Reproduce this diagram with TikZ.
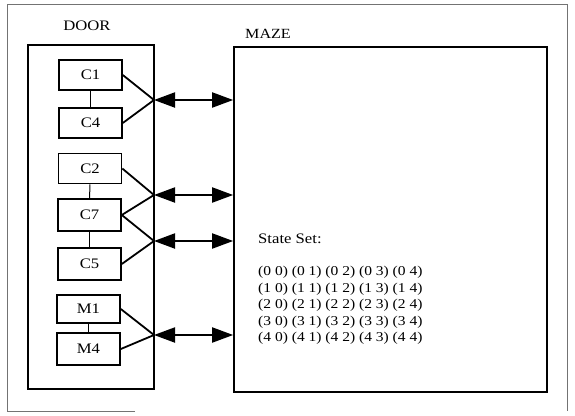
\documentclass[tikz,border=0pt]{standalone}
\usepackage{fontspec}
\setmainfont{Liberation Serif}[FakeStretch=1.15]
\usetikzlibrary{arrows.meta}
\begin{document}
\begin{tikzpicture}[x=1pt,y=-1pt,
  frame/.style={draw=black!55,line width=0.6pt},
  container/.style={draw,line width=1.7pt,inner sep=0pt},
  comp/.style={draw,line width=1.6pt,minimum width=63pt,minimum height=30pt,inner sep=0pt,font=\fontsize{14.5}{16}\selectfont},
  label/.style={font=\fontsize{14.5}{16}\selectfont,inner sep=0pt},
  link/.style={line width=1.8pt},
  chain/.style={line width=1pt},
  dbl/.style={line width=2pt,{Triangle[length=21pt,width=15pt]}-{Triangle[length=21pt,width=15pt]}}
]
\useasboundingbox (0,0) rectangle (575,415);
\draw[frame] (135,411) -- (7,411) -- (7,4) -- (567,4) -- (567,411);

\node[container,minimum width=126pt,minimum height=344pt] (door) at (91,217) {};
\node[container,minimum width=313pt,minimum height=345pt] (maze) at (390.5,219.5) {};
\node[label] (doorlbl) at (87,26) {DOOR};
\node[label,font=\fontsize{14}{16}\selectfont] (mazelbl) at (268,34) {MAZE};

\node[comp] (c1) at (90.5,75) {C1};
\node[comp] (c4) at (90.5,123) {C4};
\node[comp] (c2) at (90,168.5) {C2};
\node[comp,minimum height=32pt] (c7) at (89.5,215) {C7};
\node[comp,minimum height=32pt] (c5) at (89.5,264) {C5};
\node[comp,minimum height=28pt] (m1) at (88.5,309) {M1};
\node[comp,minimum height=32pt] (m4) at (88.5,349) {M4};

\draw[chain] (c1) -- (c4);
\draw[chain] (c2) -- (c7);
\draw[chain] (c7) -- (c5);
\draw[chain] (m1) -- (m4);

\coordinate (j1) at (154,100);
\coordinate (j2) at (154,195);
\coordinate (j3) at (154,241);
\coordinate (j4) at (154,335);

\draw[link] (c1.east) -- (j1);
\draw[link] (c4.east) -- (j1);
\draw[link] (c2.east) -- (j2);
\draw[link] (c7.east) -- (j2);
\draw[link] (c7.east) -- (j3);
\draw[link] (c5.east) -- (j3);
\draw[link] (m1.east) -- (j4);
\draw[link] (m4.east) -- (j4);

\draw[dbl] (j1) -- (j1 -| maze.west);
\draw[dbl] (j2) -- (j2 -| maze.west);
\draw[dbl] (j3) -- (j3 -| maze.west);
\draw[dbl] (j4) -- (j4 -| maze.west);

\node[label,anchor=west] (sslbl) at (258,239) {State Set:};
\node[anchor=north west,inner sep=0pt,align=left,font=\fontsize{13.5}{16.6}\selectfont] (states) at (258,266)
{(0 0) (0 1) (0 2) (0 3) (0 4)\\
(1 0) (1 1) (1 2) (1 3) (1 4)\\
(2 0) (2 1) (2 2) (2 3) (2 4)\\
(3 0) (3 1) (3 2) (3 3) (3 4)\\
(4 0) (4 1) (4 2) (4 3) (4 4)};
\end{tikzpicture}
\end{document}
